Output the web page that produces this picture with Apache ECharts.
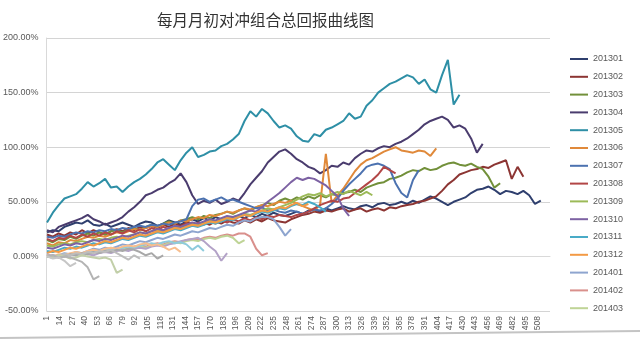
<!DOCTYPE html>
<html><head><meta charset="utf-8">
<script src="https://cdn.jsdelivr.net/npm/echarts@6/dist/echarts.min.js"></script>
<style>html,body{margin:0;padding:0;background:#fff}#c{width:640px;height:344px}</style>
</head><body><div id="c"></div><script>
// sampling step (days) of every value list below; first value is day 1
const STEP = 6;
const DAY_COUNT = 520;
const titleText = '每月月初对冲组合总回报曲线图';
const yMin = -50, yMax = 200, yStep = 50;

const legendNames = ['201301','201302','201303','201304','201305','201306','201307','201308','201309','201310','201311','201312','201401','201402','201403'];
const extraNames = ['201404','201405','201406','201407','201408','201409','201410','201411'];

// total return (%) per series
const s201301 = [22,24,23,27,29,31,30,33,29,28, 30,27,29,31,29,27,30,32,31,28, 30,33,31,29,32,34,32,35,33,36, 34,33,36,37,35,38,36,39,37,40, 38,37,39,41,39,42,43,41,44,42, 44,46,44,43,46,47,45,48,49,47, 48,50,48,51,49,52,55,53,50,47, 50,52,54,58,61,62,64,61,57,60, 59,57,60,56,48,51];
const s201302 = [20,18,21,19,22,20,24,21,24,22, 20,23,25,23,26,24,27,26,28,26, 29,27,30,28,31,30,28,31,29,32, 30,33,31,30,33,31,34,32,35,33, 32,31,34,36,38,39,41,40,42,41, 43,44,41,43,44,41,43,44,42,45, 44,46,47,48,50,51,53,55,60,66, 70,75,77,79,80,82,81,84,86,88, 71,82,73];
const s201303 = [15,13,16,15,18,16,19,21,19,22, 20,23,24,22,25,26,24,27,29,27, 30,32,30,33,34,36,34,37,35,38, 39,41,39,42,44,42,45,47,49,47, 51,53,51,54,52,55,53,56,54,57, 56,58,59,61,59,63,65,67,68,71, 72,74,77,79,78,81,79,80,83,85, 86,84,83,85,82,80,73,63,67];
const s201304 = [24,22,27,29,31,33,35,38,34,32, 29,31,33,36,41,45,50,56,58,61, 63,67,70,76,68,56,48,51,49,52, 48,50,53,51,58,66,72,78,86,91, 96,98,94,89,86,82,80,76,79,83, 82,86,84,90,94,97,96,99,101,100, 103,105,108,112,116,121,124,126,128,125, 118,120,117,108,95,103];
const s201305 = [31,40,47,53,55,57,62,68,64,67, 71,63,64,59,64,68,71,75,80,86, 89,84,79,88,95,100,91,93,96,97, 101,103,107,112,124,133,128,135,131,124, 118,120,117,110,106,105,112,110,116,118, 121,124,131,126,128,138,143,150,154,158, 160,163,166,164,158,162,153,150,166,180, 139,148];
const s201306 = [12,10,13,12,15,14,16,18,17,19, 18,20,22,21,23,25,24,26,28,27, 29,31,30,33,32,34,36,35,38,37, 39,41,40,42,44,43,45,47,46,48, 50,49,51,48,46,44,42,47,94,49, 56,62,70,78,84,88,90,93,96,98, 100,97,96,95,97,96,92,99];
const s201307 = [18,17,19,18,20,22,21,23,22,24, 23,25,24,26,25,27,28,27,29,28, 30,29,31,32,34,46,52,53,50,52, 54,51,52,50,48,46,44,45,42,43, 41,40,42,41,39,41,43,42,44,48, 53,60,66,71,76,82,84,85,83,80, 67,58,54,70,79];
const s201308 = [16,14,17,16,19,17,20,18,21,19, 22,20,23,21,24,22,25,23,26,24, 27,25,28,27,30,28,31,29,32,30, 33,31,34,32,35,33,36,34,37,36, 38,37,36,38,39,41,44,47,49,51, 50,53,54,58,62,66,70,75,82,79, 76];
const s201309 = [10,9,11,12,11,13,14,13,15,16, 15,17,18,17,19,20,22,21,23,24, 23,25,27,26,28,30,29,31,33,32, 34,36,35,37,39,38,40,42,44,43, 45,47,49,52,55,57,56,58,55,57, 59,57,60,58,56,59,56];
const s201310 = [8,7,9,11,10,12,11,13,15,14, 16,15,17,19,18,20,22,21,23,25, 24,26,28,27,29,31,30,32,34,33, 35,37,36,38,40,42,41,45,50,54, 58,63,68,72,70,72,71,68,65,60, 55,44,37];
const s201311 = [5,4,6,8,7,9,8,10,12,11, 13,12,14,16,15,17,19,18,20,22, 21,23,25,24,26,28,27,29,31,30, 32,34,33,36,38,37,39,41,40,42, 44,43,46,48,47,50,48,45,41];
const s201312 = [3,5,4,6,8,7,9,11,10,12, 14,13,15,17,16,18,20,19,21,23, 22,24,26,25,27,29,28,30,32,31, 33,35,34,36,38,37,40,42,41,43, 45,44,47,49,46,48];
const s201401 = [2,0,1,3,2,4,3,5,7,6, 8,7,9,11,10,12,14,13,15,17, 16,18,20,19,21,23,22,24,26,25, 27,29,28,31,33,32,35,36,36,34, 27,19,25];
const s201402 = [0,1,-1,2,1,3,2,4,5,4, 6,5,7,8,7,9,10,9,11,12, 11,13,14,13,15,16,15,17,18,17, 19,20,19,21,21,18,7,1,3];
const s201403 = [0,-1,1,0,2,1,3,2,4,3, 5,4,6,7,6,8,9,8,10,11, 10,12,13,12,14,15,14,16,17,16, 18,19,17,12,15];
const s201404 = [0,1,-1,0,2,1,3,2,1,3, 4,3,5,6,5,7,8,7,9,10, 9,11,12,14,15,16,17,14,9,5, -4,3];
const s201405 = [0,-1,1,2,1,3,2,4,5,4, 6,7,6,8,9,8,10,11,12,11, 13,14,12,13,11,6,10,5];
const s201406 = [1,0,2,1,3,4,3,5,6,5, 7,8,7,9,10,9,11,12,10,11, 9,6,8,4];
const s201407 = [0,-1,1,0,2,1,3,2,4,3, 5,4,6,5,7,6,4,1,3,-2,1];
const s201408 = [0,1,0,2,1,3,2,4,3,5, 4,6,3,0,-3,1,-2];
const s201409 = [0,-1,1,0,-2,-1,1,0,-1,-2, -1,-3,-15,-12];
const s201410 = [0,1,-1,0,-1,-3,-5,-10,-21,-18];
const s201411 = [0,-2,-1,-4,-9,-6];

const legendValues = [s201301,s201302,s201303,s201304,s201305,s201306,s201307,s201308,s201309,s201310,s201311,s201312,s201401,s201402,s201403];
const extraValues = [s201404,s201405,s201406,s201407,s201408,s201409,s201410,s201411];

const legendColors = ['#2F3F6E','#8C3533','#72903A','#4A3C6E','#2E8FA6','#E0893A','#4C72B0','#B24646','#9CBA58','#7D62A3','#49ABC7','#F39A45','#8EA5CF','#D9908C','#BFD496'];
const extraColors = ['#B3A2C7','#8ECBDC','#F8BE8E','#A8A8A8','#BDBDBD','#C2CFA9','#B3B3B3','#C6C6C6'];

const categories = [];
for (let d = 1; d <= DAY_COUNT; d++) categories.push(String(d));

function toPairs(vals) { return vals.map((v, i) => [i * STEP, v]); }
function mkSeries(name, vals, color) {
  return {
    name: name, type: 'line', data: toPairs(vals), showSymbol: false, symbol: 'none',
    lineStyle: { color: color, width: 2 }, itemStyle: { color: color },
    emphasis: { disabled: true }, animation: false
  };
}
const series = [];
legendNames.forEach((n, i) => series.push(mkSeries(n, legendValues[i], legendColors[i])));
extraNames.forEach((n, i) => series.push(mkSeries(n, extraValues[i], extraColors[i])));

const chart = echarts.init(document.getElementById('c'), null, { renderer: 'canvas' });
chart.setOption({
  backgroundColor: '#ffffff',
  animation: false,
  title: {
    text: titleText, left: 152, top: 7,
    textStyle: { fontFamily: 'Noto Sans CJK SC', fontSize: 15.5, fontWeight: 'normal', color: '#333333' }
  },
  grid: { left: 46, right: 90, top: 38, bottom: 33, containLabel: false },
  legend: {
    data: legendNames, orient: 'vertical', left: 565, top: 48,
    icon: 'rect', itemWidth: 18, itemHeight: 2, itemGap: 5.8,
    textStyle: { fontFamily: 'Liberation Sans', fontSize: 9, color: '#595959', lineHeight: 12 }
  },
  xAxis: {
    type: 'category', data: categories, boundaryGap: true,
    axisLine: { show: true, lineStyle: { color: '#D9D9D9', width: 1 } },
    axisTick: { show: false },
    axisLabel: { interval: 12, rotate: 90, fontFamily: 'Liberation Sans', fontSize: 8.5, color: '#595959', margin: 5 },
    splitLine: { show: false }
  },
  yAxis: {
    type: 'value', min: yMin, max: yMax, interval: yStep,
    axisLine: { show: true, lineStyle: { color: '#D9D9D9' } },
    axisTick: { show: false },
    axisLabel: { formatter: v => v.toFixed(2) + '%', fontFamily: 'Liberation Sans', fontSize: 9, color: '#595959', margin: 8 },
    splitLine: { show: true, lineStyle: { color: '#D4D4D4', width: 1 } }
  },
  graphic: [{
    type: 'line', shape: { x1: 0, y1: 338, x2: 640, y2: 331 },
    style: { stroke: '#C4C4C4', lineWidth: 2 }, silent: true
  }],
  series: series
});
</script></body></html>
